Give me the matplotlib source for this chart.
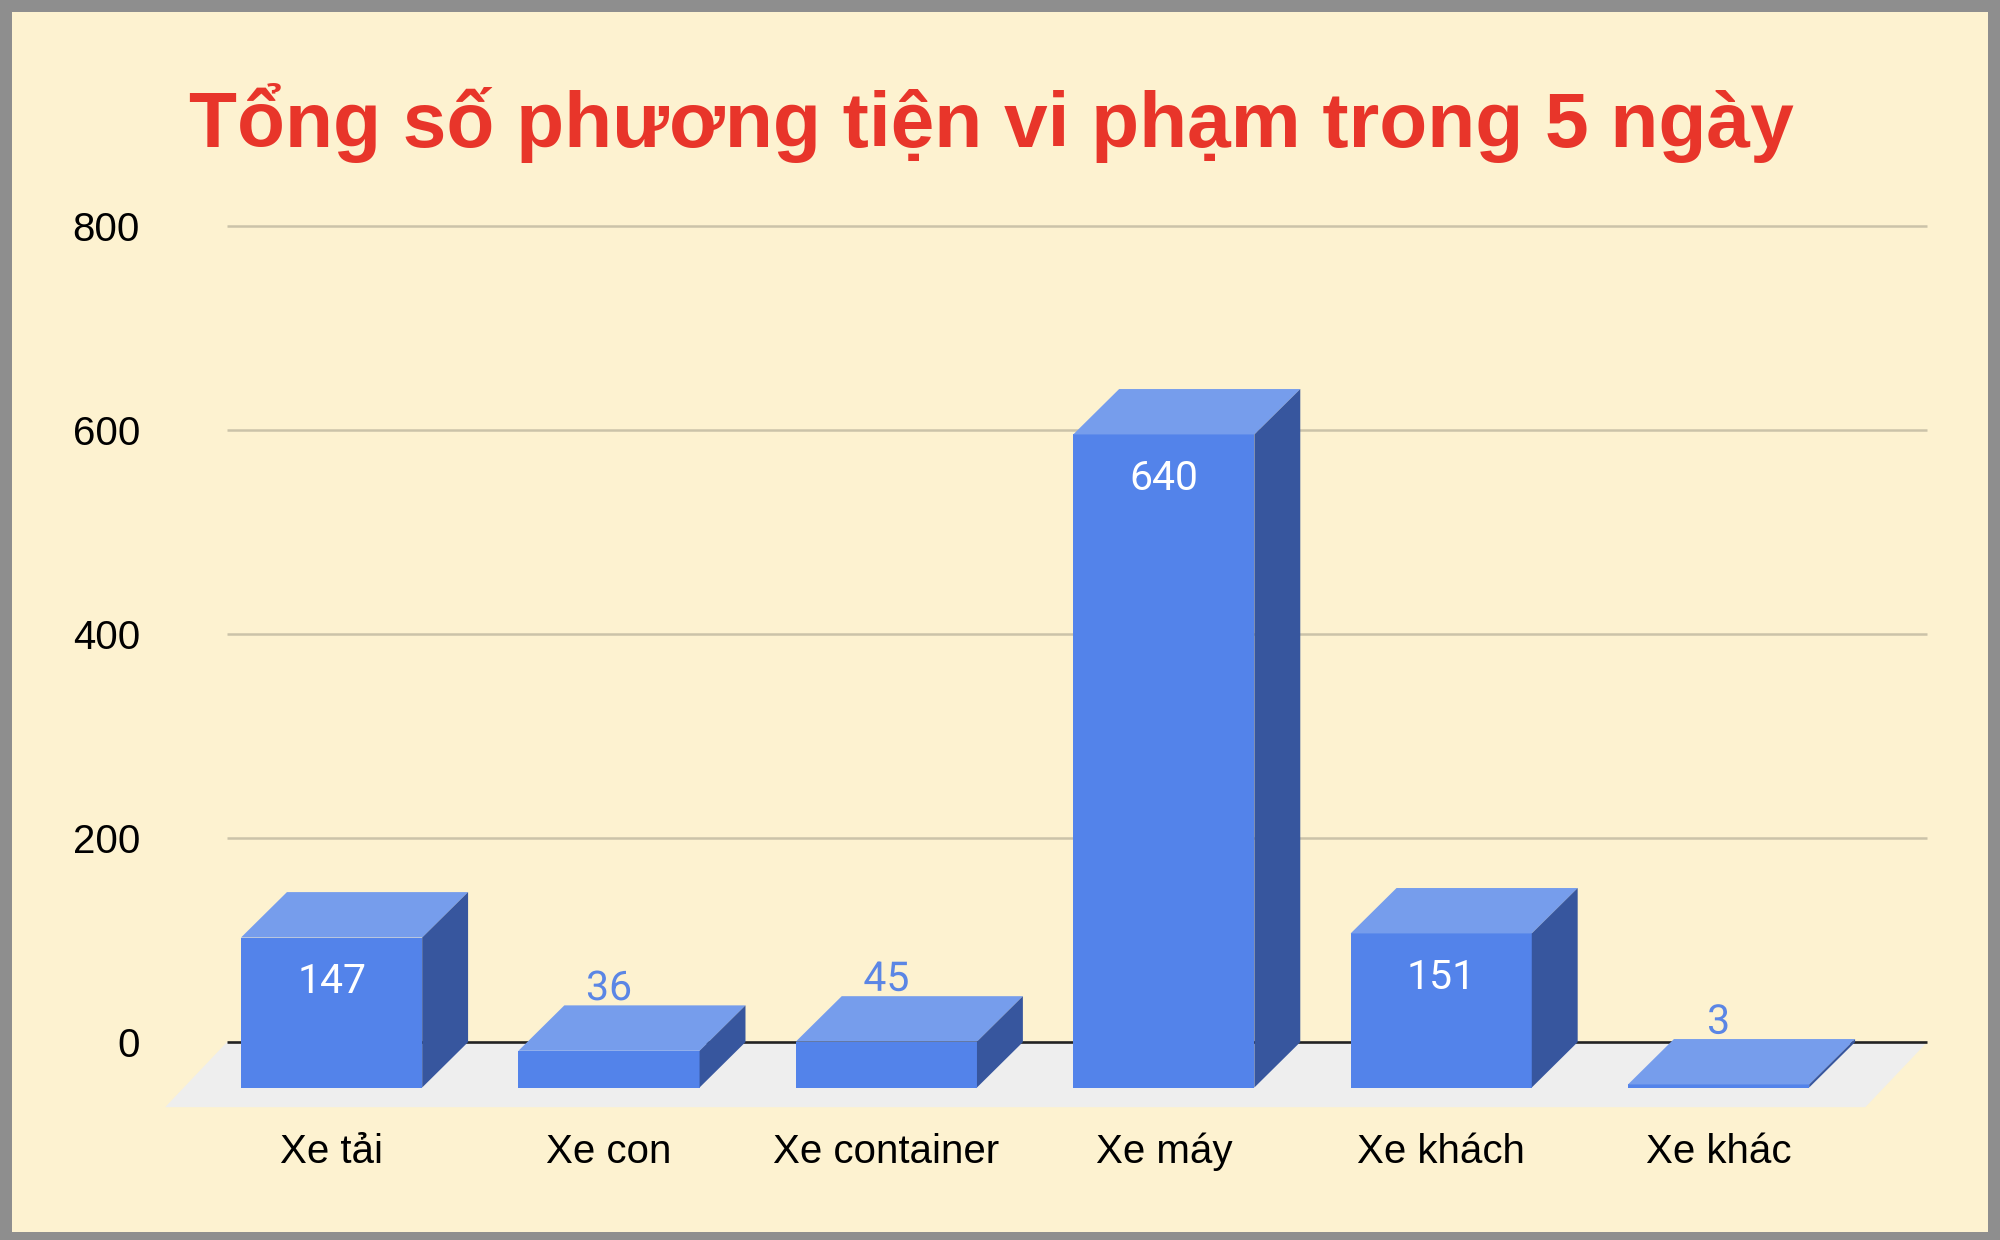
import matplotlib
matplotlib.use("Agg")
import matplotlib.pyplot as plt
from matplotlib.patches import Polygon, Rectangle
import matplotlib.patheffects as pe

# ---------------- data ----------------
categories = ["Xe tải", "Xe con", "Xe container", "Xe máy", "Xe khách", "Xe khác"]
values = [147, 36, 45, 640, 151, 3]
y_ticks = [0, 200, 400, 600, 800]
title = "Tổng số phương tiện vi phạm trong 5 ngày"

# ---------------- style ----------------
BG = "#FDF2D0"
BORDER = "#8E8E8E"
FRONT = "#5383EA"
TOP = "#769DEC"
SIDE = "#37569E"
FLOOR = "#EEEEEE"
GRID = "#CBC3A9"
TITLE_C = "#E8352A"
LABEL_OUT = "#5B86E5"

W, H = 2000, 1240
fig = plt.figure(figsize=(W / 100, H / 100), dpi=100)
fig.patch.set_facecolor(BORDER)
fig.patches.append(Rectangle((12 / W, 1 - 1232 / H), (1988 - 12) / W, (1232 - 12) / H,
                             transform=fig.transFigure, facecolor=BG, edgecolor="none", zorder=-10))

# pixel mapping (pixels from top-left)
X0, XS = 331.6, 277.4      # category 0 centre, px per category
Y0, YS = 1042.1, 1.0204    # value 0, px per unit
AX_L, AX_R, AX_T, AX_B = 160, 1960, 200, 1125
ax = fig.add_axes([AX_L / W, 1 - AX_B / H, (AX_R - AX_L) / W, (AX_B - AX_T) / H])
ax.set_zorder(1)
ax.set_xlim((AX_L - X0) / XS, (AX_R - X0) / XS)
ax.set_ylim((Y0 - AX_B) / YS, (Y0 - AX_T) / YS)
ax.patch.set_visible(False)
for s in ax.spines.values():
    s.set_visible(False)

# 3D geometry in data units
bw = 0.653          # bar width
dx = 0.1655         # depth offset x (categories)
dy = 44.5           # depth offset y (units)
fdx, fdy = 0.223, 63.75
g0, g1 = -0.377, 5.752   # back wall extent

# floor
ax.add_patch(Polygon([(g0 - fdx, -fdy), (g1 - fdx, -fdy), (g1, 0), (g0, 0)],
                     closed=True, facecolor=FLOOR, edgecolor="none", zorder=1, clip_on=False))
# gridlines
ax.hlines([t for t in y_ticks if t > 0], g0, g1, colors=GRID, lw=1.8, zorder=2)
ax.hlines([0], g0, g1, colors="#222222", lw=1.9, zorder=2)

# bars
for i, v in enumerate(values):
    xl, xr = i - bw / 2, i + bw / 2
    ax.add_patch(Polygon([(xl, -dy), (xr, -dy), (xr, v - dy), (xl, v - dy)],
                         closed=True, facecolor=FRONT, edgecolor="none", zorder=3))
    ax.add_patch(Polygon([(xl, v - dy), (xr, v - dy), (xr + dx, v), (xl + dx, v)],
                         closed=True, facecolor=TOP, edgecolor="none", zorder=3))
    ax.add_patch(Polygon([(xr, -dy), (xr + dx, 0), (xr + dx, v), (xr, v - dy)],
                         closed=True, facecolor=SIDE, edgecolor="none", zorder=3))
    if v > 100:
        ax.text(i, v - dy - 43, f"{v}", ha="center", va="center", color="white",
                fontsize=29.5, family=["Roboto", "DejaVu Sans"], zorder=5)
    else:
        ax.text(i, v - dy + 61, f"{v}", ha="center", va="center", color=LABEL_OUT,
                fontsize=29.5, family=["Roboto", "DejaVu Sans"], zorder=5,
                path_effects=[pe.withStroke(linewidth=5, foreground=BG)])

# category labels
for i, c in enumerate(categories):
    ax.text(i, (Y0 - 1152) / YS, c, ha="center", va="center", fontsize=29,
            family=["Liberation Sans", "DejaVu Sans"], color="black", zorder=5, clip_on=False)

# y tick labels
ax.set_xticks([])
ax.set_yticks(y_ticks)
ax.set_yticklabels([str(t) for t in y_ticks], fontsize=29,
                   family=["Liberation Sans", "DejaVu Sans"])
ax.tick_params(axis="y", length=0, pad=14.4)

# title
fig.text(991 / W, 1 - 147 / H, title, ha="center", va="baseline", fontsize=56.5,
         fontweight="bold", color=TITLE_C, family=["Liberation Sans", "DejaVu Sans"])

fig.savefig("out.png", dpi=100, facecolor=fig.get_facecolor())
